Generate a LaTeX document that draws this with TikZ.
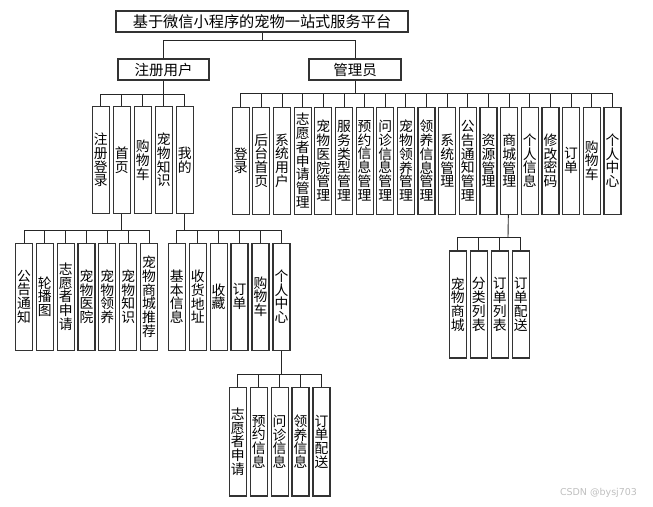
\documentclass[tikz,border=0pt]{standalone}
\usepackage{fontspec}
\setmainfont{Noto Sans CJK SC}
\newfontfamily\wmfont{DejaVu Sans}
\XeTeXlinebreaklocale "zh"
\XeTeXlinebreakskip=0pt plus 1pt
\usepackage{tikz}
\usetikzlibrary{positioning}

\begin{document}
\begin{tikzpicture}[x=1pt, y=1pt,
    every node/.style={font=\fontsize{14.5}{15}\selectfont},
    box/.style={draw=black!80, line width=1.2pt, fill=white, inner sep=0pt, minimum height=21pt},
    vbox/.style={draw=black!80, line width=1.2pt, fill=white, inner sep=0pt, minimum width=17pt, minimum height=107pt,
      text width=14pt, align=center, font=\fontsize{13.8}{13.8}\selectfont},
    link/.style={draw=black!85, line width=0.9pt}]
    \useasboundingbox (0,0) rectangle (653,-506);

    % top levels
    \node[box, minimum width=292pt, font=\fontsize{15.2}{16}\selectfont] (sys) at (262,-21.5) {基于微信小程序的宠物一站式服务平台};
    \node[box, minimum width=91pt] (user) at (163.5,-69.5) {注册用户};
    \node[box, minimum width=92pt] (admin) at (355,-69.5) {管理员};
    \coordinate (bus0) at (262,-40);
    \draw[link] (sys) -- (bus0);
    \draw[link] (bus0) -| (user);
    \draw[link] (bus0) -| (admin);

    % user menu
    \coordinate (busU) at (163.5,-94);
    \draw[link] (user) -- (busU);
    \foreach \t/\n [count=\i] in {注册登录/reg, 首页/home, 购物车/cart, 宠物知识/know, 我的/mine} {
      \node[vbox] (u\n) at ({100.8+(\i-1)*21},-160) {\t};
      \draw[link] (busU) -| (u\n);
    }

    % admin menu
    \coordinate (busA) at (355,-93.3);
    \draw[link] (admin) -- (busA);
    \foreach \t [count=\i] in {登录, 后台首页, 系统用户, 志愿者申请管理, 宠物医院管理, 服务类型管理,
      预约信息管理, 问诊信息管理, 宠物领养管理, 领养信息管理, 系统管理, 公告通知管理,
      资源管理, 商城管理, 个人信息, 修改密码, 订单, 购物车, 个人中心} {
      \node[vbox] (a\i) at ({240.7+(\i-1)*20.65},-160.7) {\t};
      \draw[link] (busA) -| (a\i);
    }

    % home page
    \coordinate (busH) at (121.8,-230.7);
    \draw[link] (uhome) -- (busH);
    \foreach \t [count=\i] in {公告通知, 轮播图, 志愿者申请, 宠物医院, 宠物领养, 宠物知识, 宠物商城推荐} {
      \node[vbox] (h\i) at ({24+(\i-1)*20.83},-296.7) {\t};
      \draw[link] (busH) -| (h\i);
    }

    % mine
    \coordinate (busM) at (184.8,-230.7);
    \draw[link] (umine) -- (busM);
    \foreach \t [count=\i] in {基本信息, 收货地址, 收藏, 订单, 购物车, 个人中心} {
      \node[vbox] (m\i) at ({176.7+(\i-1)*20.95},-296.7) {\t};
      \draw[link] (busM) -| (m\i);
    }

    % personal center
    \coordinate (busP) at (281.5,-374.3);
    \draw[link] (m6) -- (busP);
    \foreach \t [count=\i] in {志愿者申请, 预约信息, 问诊信息, 领养信息, 订单配送} {
      \node[vbox, minimum height=108.5pt] (p\i) at ({237.7+(\i-1)*20.95},-441.7) {\t};
      \draw[link] (busP) -| (p\i);
    }

    % shop management
    \coordinate (busS) at (508,-237.3);
    \draw[link] (a14) -- (busS);
    \foreach \t [count=\i] in {宠物商城, 分类列表, 订单列表, 订单配送} {
      \node[vbox] (s\i) at ({457.7+(\i-1)*21},-304.5) {\t};
      \draw[link] (busS) -| (s\i);
    }

    \node[text=black!25, font=\wmfont\fontsize{9.5}{10}\selectfont] (wm) at (598.5,-492.7) {CSDN @bysj703};
  \end{tikzpicture}
\end{document}
